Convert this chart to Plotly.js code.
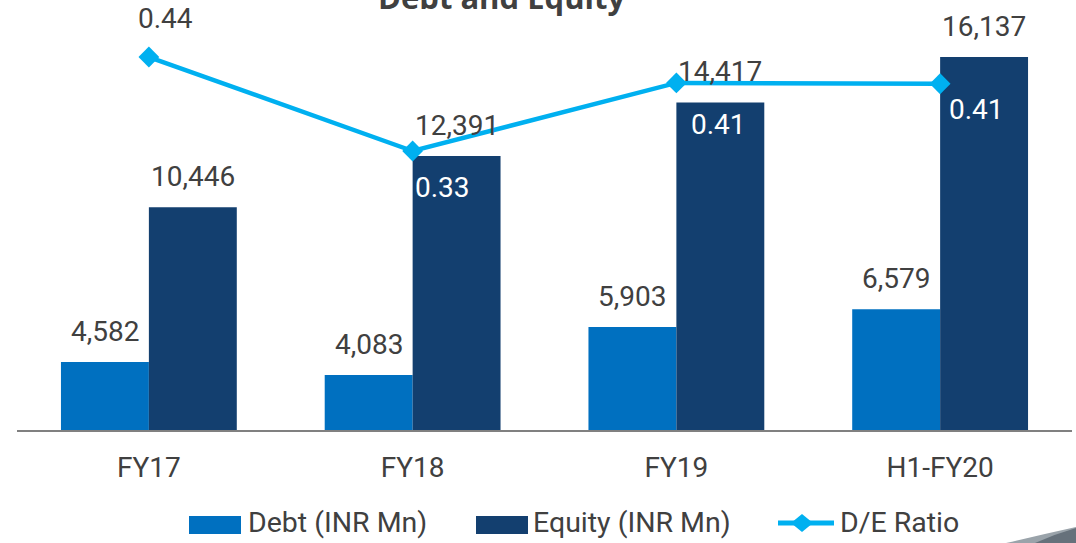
<!DOCTYPE html>
<html>
<head>
<meta charset="utf-8">
<script src="https://cdn.plot.ly/plotly-3.0.1.min.js"></script>
<style>
  html, body { margin: 0; padding: 0; background: #ffffff; }
  #chart { width: 1076px; height: 543px; }
</style>
</head>
<body>
<div id="chart"></div>
<script>
// ---- Data ----
const categories = ['FY17', 'FY18', 'FY19', 'H1-FY20'];
const debt = [4582, 4083, 5903, 6579];          // Debt (INR Mn)
const equity = [10446, 12391, 14417, 16137];    // Equity (INR Mn)
const deRatio = [0.439, 0.330, 0.409, 0.408];   // D/E Ratio
const seriesNames = ['Debt (INR Mn)', 'Equity (INR Mn)', 'D/E Ratio'];
const chartTitle = 'Debt and Equity';

// ---- Styles ----
const C_DEBT = '#0070C0';
const C_EQUITY = '#133F6F';
const C_LINE = '#00B0F0';
const C_TEXT = '#404040';
const NARROW = "'Liberation Sans Narrow', 'Arial Narrow', Roboto, sans-serif";
const LABEL_FONT = "Roboto, 'Liberation Sans', sans-serif";

const W = 1076, H = 543;
const M = { l: 17, r: 4, t: 0, b: 113 };
const PW = W - M.l - M.r, PH = H - M.t - M.b;
const px = x => (x - M.l) / PW;
const py = y => (H - M.b - y) / PH;

const fmt = v => v.toLocaleString('en-US');

const traces = [
  { type: 'bar', name: seriesNames[0], x: categories, y: debt,
    marker: { color: C_DEBT, line: { width: 0 } }, hoverinfo: 'skip' },
  { type: 'bar', name: seriesNames[1], x: categories, y: equity,
    marker: { color: C_EQUITY, line: { width: 0 } }, hoverinfo: 'skip' },
  { type: 'scatter', name: seriesNames[2], x: categories, y: deRatio, yaxis: 'y2',
    mode: 'lines+markers', cliponaxis: false,
    line: { color: C_LINE, width: 4.5 },
    marker: { symbol: 'diamond', size: 16, color: C_LINE }, hoverinfo: 'skip' }
];

const annotations = [];
// bar value labels
const BAR_OFF = 1 / 6;
debt.forEach((v, i) => annotations.push({
  xref: 'x', yref: 'y', x: i - BAR_OFF, y: v, text: fmt(v), showarrow: false,
  xanchor: 'center', yanchor: 'bottom', yshift: 12,
  font: { family: LABEL_FONT, size: 28, color: C_TEXT }
}));
equity.forEach((v, i) => annotations.push({
  xref: 'x', yref: 'y', x: i + BAR_OFF, y: v, text: fmt(v), showarrow: false,
  xanchor: 'center', yanchor: 'bottom', yshift: 12,
  font: { family: LABEL_FONT, size: 28, color: C_TEXT }
}));
// ratio labels
const ratioShiftX = [17, 30, 42, 36];
const ratioShiftY = [39, -36, -42, -26];
const ratioColor = [C_TEXT, '#ffffff', '#ffffff', '#ffffff'];
deRatio.forEach((v, i) => annotations.push({
  xref: 'x', yref: 'y2', x: i, y: v, text: v.toFixed(2), showarrow: false,
  xanchor: 'center', yanchor: 'middle', xshift: ratioShiftX[i], yshift: ratioShiftY[i],
  font: { family: LABEL_FONT, size: 28, color: ratioColor[i] }
}));
// title (partly cut off at the top, as in the reference)
annotations.push({
  xref: 'paper', yref: 'paper', x: px(501), y: 1, yanchor: 'bottom', xanchor: 'center',
  yshift: -20, showarrow: false, text: '<b>' + chartTitle + '</b>',
  font: { family: "'Open Sans', sans-serif", size: 31, color: C_TEXT }
});
// custom legend texts
const legendTextX = [246, 531, 838];
seriesNames.forEach((n, i) => annotations.push({
  xref: 'paper', yref: 'paper', x: px(legendTextX[i]), y: py(522), xanchor: 'left', yanchor: 'middle',
  showarrow: false, text: n, font: { family: NARROW, size: 28.5, color: C_TEXT }
}));

const shapes = [
  { type: 'rect', xref: 'paper', yref: 'paper', x0: px(189), x1: px(241), y0: py(534), y1: py(516),
    fillcolor: C_DEBT, line: { width: 0 } },
  { type: 'rect', xref: 'paper', yref: 'paper', x0: px(476), x1: px(528), y0: py(534), y1: py(516),
    fillcolor: C_EQUITY, line: { width: 0 } },
  { type: 'line', xref: 'paper', yref: 'paper', x0: px(778), x1: px(834), y0: py(523), y1: py(523),
    line: { color: C_LINE, width: 5 } },
  { type: 'path', xref: 'paper', yref: 'paper',
    path: `M ${px(791)},${py(523)} L ${px(802)},${py(514)} L ${px(813)},${py(523)} L ${px(802)},${py(532)} Z`,
    fillcolor: C_LINE, line: { width: 0 } },
  // decorative swoosh bottom-right
  { type: 'path', xref: 'paper', yref: 'paper',
    path: `M ${px(1006)},${py(543)} Q ${px(1040)},${py(535)} ${px(1076)},${py(527)} L ${px(1076)},${py(543)} Z`,
    fillcolor: '#9aa3aa', line: { width: 0 } },
  { type: 'path', xref: 'paper', yref: 'paper',
    path: `M ${px(1035)},${py(543)} Q ${px(1055)},${py(534)} ${px(1076)},${py(528)} L ${px(1076)},${py(543)} Z`,
    fillcolor: '#66717b', line: { width: 0 } }
];

const layout = {
  width: W, height: H, margin: M,
  paper_bgcolor: '#ffffff', plot_bgcolor: '#ffffff',
  showlegend: false,
  barmode: 'group', bargap: 1 / 3, bargroupgap: 0,
  xaxis: {
    type: 'category', range: [-0.5, 3.5], fixedrange: true,
    showline: true, linecolor: '#808080', linewidth: 2,
    ticks: '', showgrid: false, zeroline: false,
    tickfont: { family: NARROW, size: 28, color: C_TEXT },
    ticklabelstandoff: 11
  },
  yaxis: { range: [2000, 18300], visible: false, fixedrange: true },
  yaxis2: { range: [0.0065, 0.5051], overlaying: 'y', visible: false, fixedrange: true },
  annotations: annotations,
  shapes: shapes
};

Plotly.newPlot('chart', traces, layout, { displayModeBar: false, staticPlot: true });
</script>
</body>
</html>
